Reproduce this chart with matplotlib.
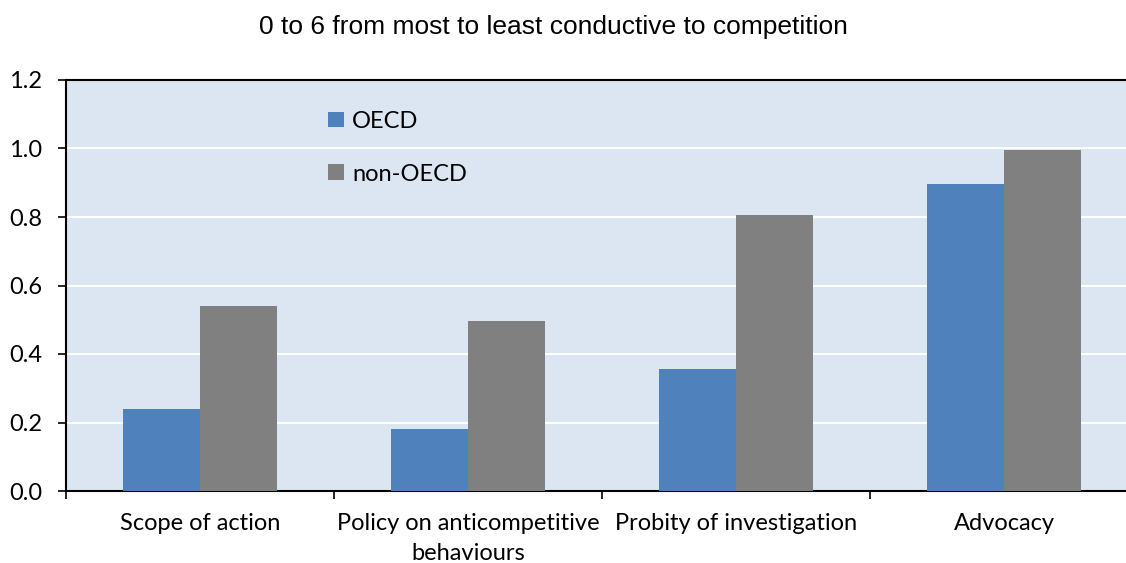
import numpy as np
import matplotlib.pyplot as plt
from matplotlib.ticker import MultipleLocator, FixedLocator

categories = ["Scope of action", "Policy on anticompetitive\nbehaviours",
              "Probity of investigation", "Advocacy"]
oecd = [0.24, 0.18, 0.355, 0.895]
non_oecd = [0.54, 0.495, 0.805, 0.995]

title = "0 to 6 from most to least conductive to competition"

fig = plt.figure(figsize=(11.26, 5.63), dpi=100)
# axes runs slightly past the right edge of the figure, like the original
ax = fig.add_axes([66 / 1126, 1 - 491 / 563, 1072 / 1126, 411 / 563])
ax.set_facecolor("#DCE6F2")

x = np.arange(len(categories))
w = 0.287
ax.bar(x - w / 2, oecd, w, color="#4F81BD", label="OECD", zorder=3)
ax.bar(x + w / 2, non_oecd, w, color="#808080", label="non-OECD", zorder=3)

ax.set_xlim(-0.5, len(categories) - 0.5)
ax.set_ylim(0, 1.2)
ax.yaxis.set_major_locator(MultipleLocator(0.2))
ax.yaxis.set_major_formatter(lambda v, p: f"{v:.1f}")
ax.grid(axis="y", color="white", linewidth=1.5, zorder=1)
ax.set_axisbelow(True)

# category labels sit between the boundary ticks
ax.xaxis.set_major_locator(FixedLocator(np.arange(len(categories) + 1) - 0.5))
ax.xaxis.set_major_formatter(lambda v, p: "")
ax.xaxis.set_minor_locator(FixedLocator(x))
ax.set_xticklabels(categories, minor=True, linespacing=1.5)
ax.tick_params(axis="x", which="minor", length=0, pad=16, labelsize=17)
ax.tick_params(axis="x", which="major", length=6, width=1.2, direction="out")
ax.tick_params(axis="y", length=6, width=1.2, labelsize=17, pad=11)
for lab in ax.get_xticklabels(minor=True) + ax.get_yticklabels():
    lab.set_fontfamily("Lato")

for s in ["left", "bottom", "top"]:
    ax.spines[s].set_linewidth(1.5)
ax.spines["right"].set_visible(False)

leg = ax.legend(loc="upper left", bbox_to_anchor=(0.225, 0.977), frameon=False,
                handlelength=0.65, handleheight=0.65, handletextpad=0.35,
                labelspacing=1.35, prop={"family": "Lato", "size": 17})

fig.text(553 / 1126, 1 - 27 / 563, title, ha="center", va="center",
         fontsize=19, fontfamily="Liberation Sans")

plt.savefig("out.png", dpi=100)
